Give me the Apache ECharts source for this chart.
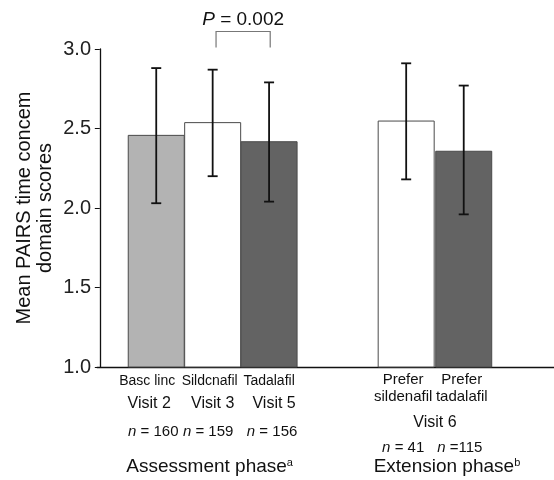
<!DOCTYPE html>
<html><head><meta charset="utf-8">
<script src="https://cdn.jsdelivr.net/npm/echarts@6/dist/echarts.min.js"></script>
<style>html,body{margin:0;padding:0;background:#fff}#c{width:554px;height:480px}</style>
</head><body><div id="c"></div>
<script>
const categories = ['Basc linc', 'Sildcnafil', 'Tadalafil', 'Prefer\nsildenafil', 'Prefer\ntadalafil'];
const visits = ['Visit 2', 'Visit 3', 'Visit 5'];
const extVisit = 'Visit 6';
const nValues = [160, 159, 156, 41, 115];
const means = [2.46, 2.54, 2.42, 2.55, 2.36];
const errLow = [2.03, 2.20, 2.04, 2.18, 1.96];
const errHigh = [2.88, 2.87, 2.79, 2.91, 2.77];
const xPos = [1, 2, 3, 5.43, 6.45];
const yTicks = [1.0, 1.5, 2.0, 2.5, 3.0];
const pText = '0.002';
const phases = ['Assessment phase', 'Extension phase'];
const phaseSup = ['a', 'b'];

const fills = ['#b3b3b3', '#ffffff', '#636363', '#ffffff', '#636363'];
const FONT = '"Liberation Sans", Arial, sans-serif';

const chart = echarts.init(document.getElementById('c'), null, {renderer: 'canvas'});
const option = {
  animation: false,
  backgroundColor: '#fff',
  textStyle: {fontFamily: FONT},
  grid: {left: 97, right: 0, top: 49, bottom: 113, containLabel: false, outerBoundsMode: 'none'},
  xAxis: {
    type: 'value', min: -0.05, max: 8.05,
    axisLine: {show: true, lineStyle: {color: '#111', width: 1.3}},
    axisTick: {show: false}, axisLabel: {show: false}, splitLine: {show: false}
  },
  yAxis: {
    type: 'value', min: yTicks[0], max: yTicks[yTicks.length - 1], interval: 0.5,
    name: 'Mean PAIRS time concem\ndomain scores',
    nameLocation: 'middle', nameGap: 41, nameRotate: 90, nameMoveOverlap: false,
    nameTextStyle: {fontSize: 20, color: '#111', lineHeight: 21, fontFamily: FONT},
    axisLine: {show: true, lineStyle: {color: '#111', width: 1.3}},
    axisTick: {show: true, length: 5, lineStyle: {color: '#111'}},
    axisLabel: {fontSize: 20, color: '#222', margin: 6, fontFamily: FONT,
      formatter: v => v.toFixed(1)},
    splitLine: {show: false}
  },
  series: [
    {
      type: 'bar', barWidth: 57,
      data: xPos.map((x, i) => ({value: [x, means[i]],
        itemStyle: {color: fills[i], borderColor: '#4a4a4a', borderWidth: 1}})),
      z: 2
    },
    {
      type: 'custom', clip: false, z: 5,
      data: xPos.map((x, i) => [x, errLow[i], errHigh[i]]),
      renderItem: (params, api) => {
        const lo = api.coord([api.value(0), api.value(1)]);
        const hi = api.coord([api.value(0), api.value(2)]);
        const w = 5;
        const st = {stroke: '#111', lineWidth: 1.8};
        return {type: 'group', children: [
          {type: 'line', shape: {x1: hi[0], y1: hi[1], x2: lo[0], y2: lo[1]}, style: st},
          {type: 'line', shape: {x1: hi[0] - w, y1: hi[1], x2: hi[0] + w, y2: hi[1]}, style: st},
          {type: 'line', shape: {x1: lo[0] - w, y1: lo[1], x2: lo[0] + w, y2: lo[1]}, style: st}
        ]};
      }
    }
  ]
};
chart.setOption(option);

const px = i => chart.convertToPixel({xAxisIndex: 0, yAxisIndex: 0}, [xPos[i], 1])[0];
const gfx = [];
const txt = (x, y, text, size, rich) => gfx.push({
  type: 'text', x: x, y: y,
  style: {text: text, fontSize: size, fill: '#111', fontFamily: FONT, align: 'center', verticalAlign: 'middle', rich: rich || {}}
});
const nRich = s => ({i: {fontStyle: 'italic', fontSize: s, fill: '#111', fontFamily: FONT}});

// assessment labels
const row1Shift = [-9, -3, 0];
const visitShift = [-7, 0, 5];
const nShift = [-3, -4.5, 3];
for (let i = 0; i < 3; i++) {
  txt(px(i) + row1Shift[i], 381, categories[i], 14);
  txt(px(i) + visitShift[i], 404, visits[i], 16);
  txt(px(i) + nShift[i], 432, '{i|n} = ' + nValues[i], 15, nRich(15));
}
// extension labels
const extShift = [-3, -2];
for (let i = 3; i < 5; i++) {
  gfx.push({type: 'text', x: px(i) + extShift[i - 3], y: 388,
    style: {text: categories[i], fontSize: 15, lineHeight: 17, fill: '#111', fontFamily: FONT,
      align: 'center', verticalAlign: 'middle'}});
}
txt((px(3) + px(4)) / 2, 423, extVisit, 16);
txt(px(3) - 3, 448, '{i|n} = ' + nValues[3], 15, nRich(15));
txt(px(4) - 4, 448, '{i|n} =' + nValues[4], 15, nRich(15));

// phase titles
const supRich = {sup: {fontSize: 11, fill: '#111', fontFamily: FONT, padding: [0, 0, 8, 0]}};
txt(px(1) - 3, 467, phases[0] + '{sup|' + phaseSup[0] + '}', 19, supRich);
txt((px(3) + px(4)) / 2 + 12, 467, phases[1] + '{sup|' + phaseSup[1] + '}', 19, supRich);

// significance bracket
const bx1 = chart.convertToPixel({xAxisIndex: 0, yAxisIndex: 0}, [2.06, 3.11]);
const bx2 = chart.convertToPixel({xAxisIndex: 0, yAxisIndex: 0}, [3.02, 3.01]);
gfx.push({type: 'polyline', shape: {points: [[bx1[0], bx2[1]], [bx1[0], bx1[1]], [bx2[0], bx1[1]], [bx2[0], bx2[1]]]},
  style: {stroke: '#777', lineWidth: 1.2, fill: null}});
txt((bx1[0] + bx2[0]) / 2, 20, '{p|P} = ' + pText, 19, {p: {fontStyle: 'italic', fontSize: 19, fill: '#111', fontFamily: FONT}});

chart.setOption({graphic: gfx});
</script></body></html>
